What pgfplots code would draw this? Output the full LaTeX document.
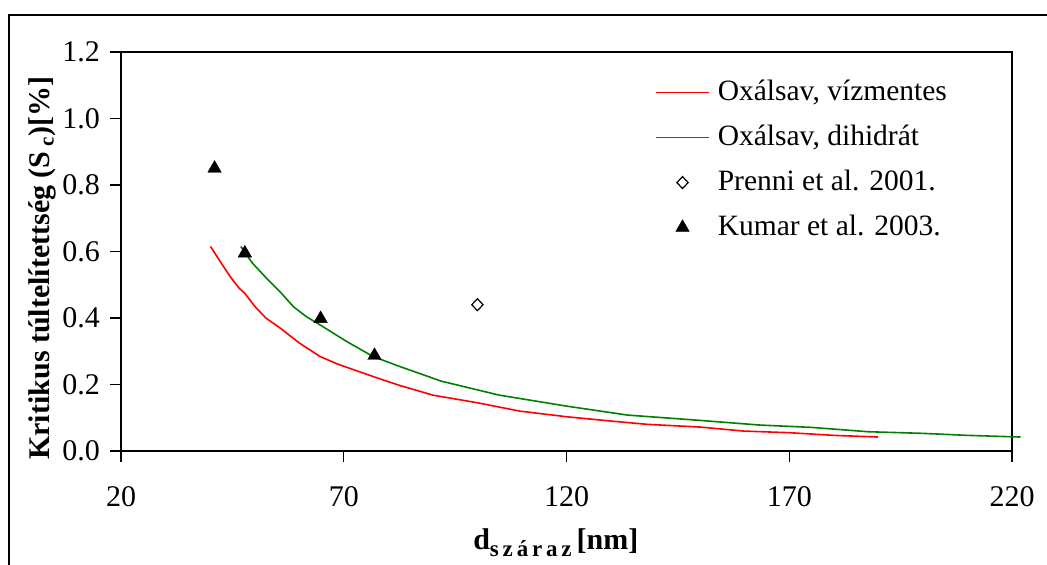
\documentclass[border=0pt]{standalone}
\usepackage{fontspec}
\setmainfont{Liberation Serif}
\usepackage{pgfplots}
\pgfplotsset{compat=1.18}
\definecolor{xlgreen}{RGB}{0,128,0}
\definecolor{xlred}{RGB}{255,0,0}
\pgfplotsset{markleg/.style={legend image code/.code={\draw[##1] plot coordinates {(26.5bp,0bp)}; \path (0bp,0bp) (53bp,0bp);}}}
\begin{document}
\fontsize{30bp}{36bp}\selectfont
\begin{tikzpicture}[x=1bp,y=1bp]
\path[use as bounding box] (0,0) rectangle (1047,565);
\draw[line width=1.3bp] (9,-5) -- (9,550) -- (1052,550);
\begin{axis}[
  at={(121bp,114bp)}, anchor=south west,
  scale only axis, width=891bp, height=399bp,
  xmin=20, xmax=220, ymin=0, ymax=1.2,
  clip=false,
  xtick={20,70,120,170,220},
  ytick={0,0.2,0.4,0.6,0.8,1.0,1.2},
  xtick pos=bottom, ytick pos=left,
  minor tick num=0,
  tick align=outside,
  major tick length=11bp,
  axis line style={line width=1.3bp},
  every tick/.style={line width=1.3bp, black},
  tick label style={font=\fontsize{30bp}{36bp}\selectfont},
  /pgf/number format/assume math mode=true,
  yticklabel style={/pgf/number format/.cd, fixed, fixed zerofill, precision=1},
  xticklabel style={/pgf/number format/.cd, fixed, precision=0, /tikz/.cd, yshift=-14bp},
  scaled ticks=false,
  xlabel={\textbf{d\raisebox{-7bp}{\fontsize{23bp}{25bp}\selectfont s\,z\,á\,r\,a\,z}\,[nm]}},
  ylabel={\textbf{Kritikus túltelítettség (S\textsubscript{ c})[\%]}},
  label style={font=\fontsize{30bp}{36bp}\selectfont},
  xlabel style={at={(axis description cs:0.488,-0.248)}, anchor=base},
  ylabel style={at={(axis description cs:-0.0797,0.4586)}, anchor=base},
  legend style={at={(axis description cs:0.596,0.94)}, anchor=north west,
    draw=none, font=\fontsize{29.5bp}{35bp}\selectfont,
    row sep=16bp,
    /tikz/every odd column/.append style={column sep=6bp}},
  legend cell align=left,
  legend image code/.code={\draw[#1] (0bp,0bp) -- (53bp,0bp);},
]
\addplot[xlred, line width=1.6bp, no marks] coordinates {
(40.1,0.615)(42.5,0.565)(44.8,0.519)(46.5,0.49)(47.8,0.474)(50.1,0.434)(52.5,0.40)(55.7,0.37)(60,0.325)(64.7,0.284)(68.5,0.262)(72.1,0.245)(77,0.222)(82.6,0.197)(90,0.168)(100,0.145)(109.5,0.12)(120,0.103)(130,0.09)(138.3,0.080)(150,0.072)(159.7,0.060)(170,0.055)(180,0.047)(189.9,0.042)
};
\addlegendentry{Oxálsav, vízmentes}
\addplot[xlgreen, line width=1.6bp, no marks] coordinates {
(46.9,0.615)(49.5,0.565)(52.7,0.519)(55.7,0.479)(58.7,0.434)(61.5,0.405)(64.7,0.379)(70.7,0.329)(76.6,0.284)(82.6,0.254)(91.9,0.21)(104.9,0.168)(120,0.135)(133.7,0.108)(150,0.092)(163.4,0.078)(175,0.071)(187.6,0.058)(200,0.053)(210,0.047)(221.9,0.042)
};
\addlegendentry{Oxálsav, dihidrát}
\addplot[only marks, mark=diamond*, mark size=6bp, mark options={xscale=1.25, fill=white, draw=black, line width=1.2bp}, markleg] coordinates {(100,0.44)};
\addlegendentry{Prenni et al. 2001.}
\addplot[only marks, mark=triangle*, mark size=7.8bp, mark options={fill=black, draw=black}, markleg] coordinates {(41,0.85)(47.8,0.595)(64.8,0.398)(76.9,0.287)};
\addlegendentry{Kumar et al. 2003.}
\end{axis}
\end{tikzpicture}
\end{document}
